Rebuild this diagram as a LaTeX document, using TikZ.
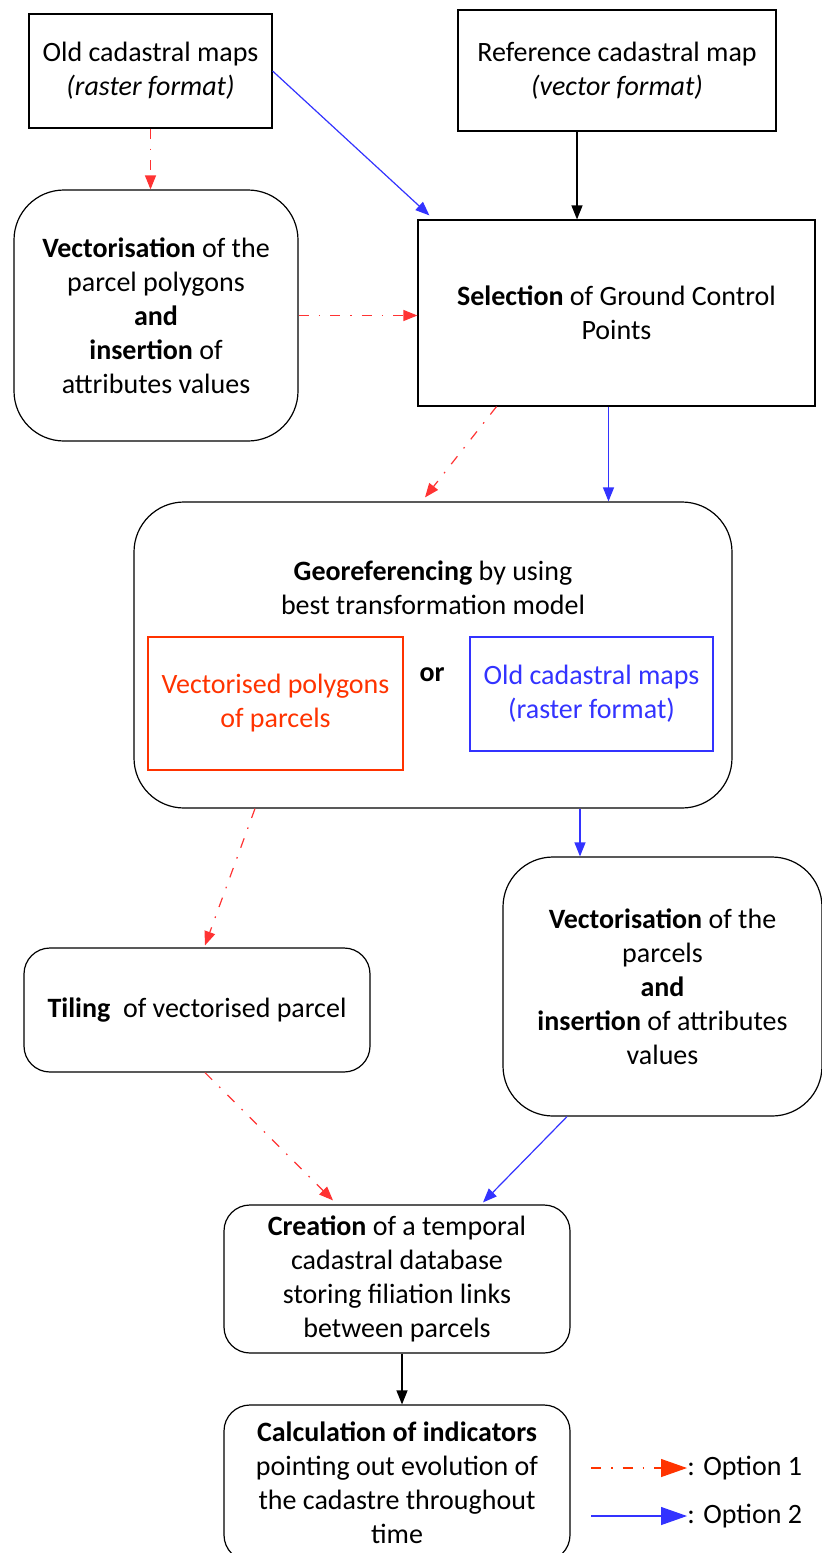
\documentclass[tikz,border=0pt]{standalone}
\usepackage{fontspec}
\setmainfont{Carlito}
\usetikzlibrary{arrows.meta}
\definecolor{optred}{RGB}{255,51,51}
\definecolor{boxred}{RGB}{255,51,0}
\definecolor{optblue}{RGB}{51,51,255}
\tikzstyle{blocksquare} = [rectangle, draw=black, line width=0.6pt, align=center, inner sep=0pt]
\tikzstyle{blockround} = [rectangle, rounded corners=25pt, draw=black, line width=0.6pt, align=center, inner sep=0pt]
\tikzstyle{blocksmall} = [rectangle, rounded corners=13pt, draw=black, line width=0.6pt, align=center, inner sep=0pt]
\tikzstyle{arrowblack} = [line width=0.6pt, draw=black, -{Triangle[length=7pt,width=5.5pt]}]
\tikzstyle{arrowblue} = [line width=0.6pt, draw=optblue, -{Triangle[length=7pt,width=5.5pt]}]
\tikzstyle{arrowred} = [line width=0.6pt, draw=optred, dash pattern=on 5pt off 5pt on 0.8pt off 5pt, -{Triangle[length=7pt,width=5.5pt]}]

\begin{document}
\begin{tikzpicture}[x=0.5pt, y=-0.5pt, every node/.style={font=\fontsize{14}{17}\selectfont}]
\useasboundingbox (0,0) rectangle (822,1553);

% top row
\node (oldmaps) [blocksquare, minimum width=121.5pt, minimum height=57pt] at (150.5,71) {Old cadastral maps\\\textit{(raster format)}};
\node (refmap) [blocksquare, minimum width=159pt, minimum height=60.5pt] at (617,70.5) {Reference cadastral map\\\textit{(vector format)}};

% second row
\node (vectpoly) [blockround, minimum width=142pt, minimum height=125.5pt] at (156,315.5) {\textbf{Vectorisation} of the\\parcel polygons\\\textbf{and}\\\textbf{insertion} of\\attributes values};
\node (selection) [blocksquare, minimum width=198.5pt, minimum height=93pt] at (616.5,313) {\textbf{Selection} of Ground Control\\Points};

% georeferencing
\node (georef) [blockround, minimum width=299pt, minimum height=153pt] at (433,655) {};
\node (georeftxt) [align=center] at (433,588) {\textbf{Georeferencing} by using\\best transformation model};
\node (vectred) [blocksquare, draw=boxred, text=boxred, minimum width=127.5pt, minimum height=66.5pt] at (275.5,703.5) {Vectorised polygons\\of parcels};
\node (or) at (432,675) {\textbf{or}};
\node (oldblue) [blocksquare, draw=optblue, text=optblue, minimum width=121.5pt, minimum height=57pt] at (591.5,694) {Old cadastral maps\\(raster format)};

% lower part
\node (tiling) [blocksmall, minimum width=173pt, minimum height=62pt] at (197,1010) {\textbf{Tiling}\ \ of vectorised parcel};
\node (vectparcels) [blockround, minimum width=159.5pt, minimum height=129.5pt] at (662.5,986.5) {\textbf{Vectorisation} of the\\parcels\\\textbf{and}\\\textbf{insertion} of attributes\\values};
\node (creation) [blocksmall, minimum width=173pt, minimum height=74pt] at (397,1279) {\textbf{Creation} of a temporal\\cadastral database\\storing filiation links\\between parcels};
\node (calc) [blocksmall, minimum width=173pt, minimum height=78pt] at (397,1483) {\textbf{Calculation of indicators}\\pointing out evolution of\\the cadastre throughout\\time};

% legend
\node (opt1) [anchor=west, inner sep=0pt] at (687,1468) {: Option 1};
\node (opt2) [anchor=west, inner sep=0pt] at (687,1516) {: Option 2};
\coordinate (leg1) at (591,1468);
\coordinate (leg2) at (591,1516);

% connectors
\draw [arrowred] (oldmaps.south) -- (oldmaps.south |- vectpoly.north);
\draw [arrowblue] (oldmaps.east) -- ([xshift=6pt,yshift=2pt]selection.north west);
\draw [arrowblack] ([xshift=-20pt]refmap.south) -- ([xshift=-20pt]refmap.south |- selection.north);
\draw [arrowred] (vectpoly.east) -- (vectpoly.east -| selection.west);
\draw [arrowred] ([xshift=-60pt]selection.south) -- ([xshift=-4pt,yshift=2pt]georef.north);
\draw [arrowblue] ([xshift=-4pt]selection.south) -- ([xshift=-4pt]selection.south |- georef.north);
\draw [arrowred] ([xshift=-89pt]georef.south) -- ([xshift=4pt,yshift=1pt]tiling.north);
\draw [arrowblue] ([xshift=73.5pt]georef.south) -- ([xshift=73.5pt]georef.south |- vectparcels.north);
\draw [arrowred] ([xshift=4pt]tiling.south) -- ([xshift=-32pt,yshift=2pt]creation.north);
\draw [arrowblue] ([xshift=-47.75pt]vectparcels.south) -- ([xshift=43pt,yshift=1pt]creation.north);
\draw [arrowblack] ([xshift=2.5pt]creation.south) -- ([xshift=2.5pt]creation.south |- calc.north);
\draw [arrowred, draw=boxred, -{Triangle[length=13pt,width=9pt]}] (leg1) -- (opt1.west);
\draw [arrowblue, -{Triangle[length=13pt,width=9pt]}] (leg2) -- (opt2.west);

\end{tikzpicture}
\end{document}
